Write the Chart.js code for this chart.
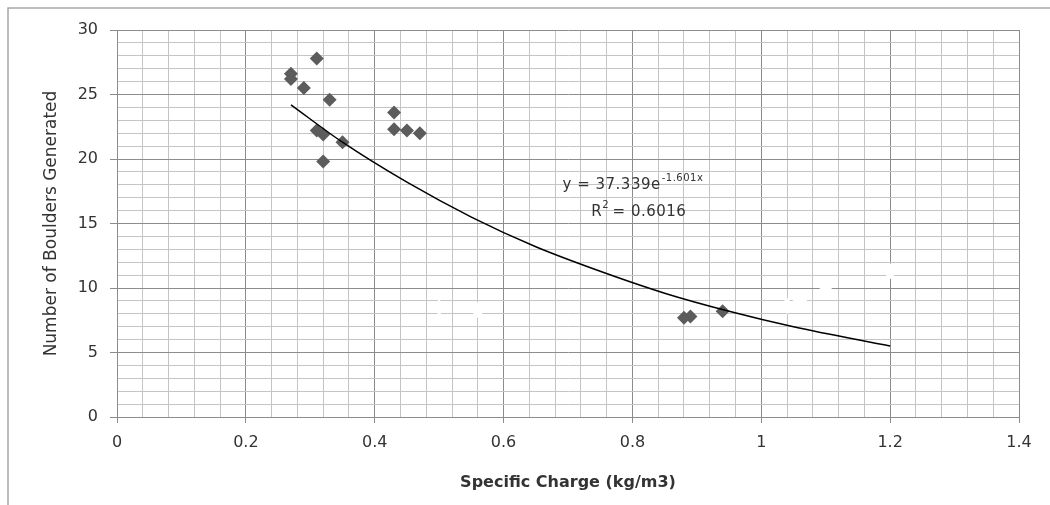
<!DOCTYPE html>
<html>
<head>
<meta charset="utf-8">
<script src="https://cdn.jsdelivr.net/npm/chart.js@4.4.0/dist/chart.umd.min.js"></script>
<style>
  html, body { margin: 0; padding: 0; background: #fff; }
  #wrap { width: 1050px; height: 505px; }
</style>
</head>
<body>
<div id="wrap"><canvas id="myChart" width="1050" height="505"></canvas></div>
<script>
// measured points (specific charge, boulders)
const chargeX = [0.27, 0.27, 0.31, 0.29, 0.33, 0.31, 0.32, 0.35, 0.32, 0.43, 0.43, 0.45, 0.47, 0.88, 0.89, 0.94];
const bouldersY = [26.6, 26.2, 27.8, 25.5, 24.6, 22.2, 21.9, 21.3, 19.8, 23.6, 22.3, 22.2, 22.0, 7.7, 7.8, 8.2];

// points drawn in white in the original (hidden)
const hiddenX = [0.50, 0.56, 1.04, 1.06, 1.10, 1.20];
const hiddenY = [8.5, 8.3, 8.6, 9.1, 9.8, 11.3];

// trend line
const trendX = [0.27, 0.35, 0.45, 0.55, 0.65, 0.75, 0.85, 0.95, 1.05, 1.2];
const trendY = [24.2, 21.3, 18.2, 15.5, 13.2, 11.3, 9.6, 8.2, 7.0, 5.5];

const xTicks = [0, 0.2, 0.4, 0.6, 0.8, 1, 1.2, 1.4];
const yTicks = [0, 5, 10, 15, 20, 25, 30];

const eqText = 'y = 37.339e';
const eqExp = '-1.601x';
const r2Text = '0.6016';

function isMajor(v, list) {
    return list.some(t => Math.abs(t - v) < 1e-6);
}

function pairs(xs, ys) {
    return xs.map((x, i) => ({ x: x, y: ys[i] }));
}

const extras = {
    id: 'extras',
    beforeDraw(chart) {
        const c = chart.ctx;
        c.save();
        c.strokeStyle = '#a8a8a8';
        c.lineWidth = 1.5;
        c.beginPath();
        c.moveTo(8, 505);
        c.lineTo(8, 8);
        c.lineTo(1050, 8);
        c.stroke();
        c.restore();
    },
    afterDatasetsDraw(chart) {
        const c = chart.ctx;
        const xs = chart.scales.x, ys = chart.scales.y;
        const big = '15px "DejaVu Sans"', small = '10px "DejaVu Sans"';
        c.save();
        c.fillStyle = '#333';
        c.textBaseline = 'middle';
        c.letterSpacing = '0.5px';
        c.font = big;
        const w1 = c.measureText(eqText).width;
        c.font = small;
        const w2 = c.measureText(eqExp).width;
        let x0 = xs.getPixelForValue(0.8) - (w1 + w2) / 2;
        let y0 = ys.getPixelForValue(18);
        c.font = big;
        c.fillText(eqText, x0, y0);
        c.font = small;
        c.fillText(eqExp, x0 + w1 + 1, y0 - 6);

        c.font = big;
        const rest = ' = ' + r2Text;
        const wr = c.measureText('R').width;
        const wrest = c.measureText(rest).width;
        x0 = xs.getPixelForValue(0.81) - (wr + 5 + wrest) / 2;
        y0 = ys.getPixelForValue(15.9);
        c.fillText('R', x0, y0);
        c.font = small;
        c.fillText('2', x0 + wr, y0 - 6);
        c.font = big;
        c.fillText(rest, x0 + wr + 5, y0);
        c.restore();
    }
};

document.addEventListener('DOMContentLoaded', function() {
    const ctx = document.getElementById('myChart');

    new Chart(ctx, {
        type: 'scatter',
        data: {
            datasets: [
                {
                    label: 'Trend',
                    type: 'line',
                    data: pairs(trendX, trendY),
                    borderColor: '#000',
                    borderWidth: 1.5,
                    pointRadius: 0,
                    cubicInterpolationMode: 'monotone',
                    fill: false,
                    order: 0
                },
                {
                    label: 'Boulders',
                    data: pairs(chargeX, bouldersY),
                    pointStyle: 'rectRot',
                    pointRadius: 7,
                    backgroundColor: '#5c5c5c',
                    borderColor: '#5c5c5c',
                    borderWidth: 0,
                    order: 1
                },
                {
                    label: 'Hidden',
                    data: pairs(hiddenX, hiddenY),
                    pointStyle: 'rectRot',
                    pointRadius: 8,
                    backgroundColor: '#ffffff',
                    borderColor: '#ffffff',
                    borderWidth: 0,
                    order: 2
                }
            ]
        },
        options: {
            responsive: false,
            animation: false,
            layout: { padding: { left: 0, top: 30, right: 31, bottom: 0 } },
            plugins: {
                legend: { display: false },
                tooltip: { enabled: false }
            },
            scales: {
                x: {
                    type: 'linear',
                    min: 0,
                    max: 1.4,
                    afterFit(scale) { scale.height = 88; },
                    ticks: {
                        stepSize: 0.04,
                        autoSkip: false,
                        maxRotation: 0,
                        padding: 10,
                        color: '#333',
                        font: { family: 'DejaVu Sans', size: 16 },
                        callback: v => isMajor(v, xTicks) ? String(Math.round(v * 10) / 10) : ''
                    },
                    grid: {
                        color: c => isMajor(c.tick.value, xTicks) ? '#8c8c8c' : '#c4c4c4',
                        tickColor: c => isMajor(c.tick.value, xTicks) ? '#8c8c8c' : 'rgba(0,0,0,0)',
                        tickLength: 6,
                        lineWidth: 1
                    },
                    border: { color: '#8c8c8c' },
                    title: {
                        display: true,
                        text: 'Specific Charge (kg/m3)',
                        color: '#333',
                        font: { family: 'DejaVu Sans', size: 16, weight: 'bold' },
                        padding: { top: 4, bottom: 13 }
                    }
                },
                y: {
                    type: 'linear',
                    min: 0,
                    max: 30,
                    afterFit(scale) { scale.width = 117; },
                    ticks: {
                        stepSize: 1,
                        autoSkip: false,
                        padding: 12,
                        color: '#333',
                        font: { family: 'DejaVu Sans', size: 16 },
                        callback: v => isMajor(v, yTicks) ? String(v) : ''
                    },
                    grid: {
                        color: c => isMajor(c.tick.value, yTicks) ? '#8c8c8c' : '#c4c4c4',
                        tickColor: c => isMajor(c.tick.value, yTicks) ? '#8c8c8c' : 'rgba(0,0,0,0)',
                        tickLength: 7,
                        lineWidth: 1
                    },
                    border: { color: '#8c8c8c' },
                    title: {
                        display: true,
                        text: 'Number of Boulders Generated',
                        color: '#333',
                        font: { family: 'DejaVu Sans', size: 17 },
                        padding: { top: 41, bottom: 0 }
                    }
                }
            }
        },
        plugins: [extras]
    });
});
</script>
</body>
</html>
